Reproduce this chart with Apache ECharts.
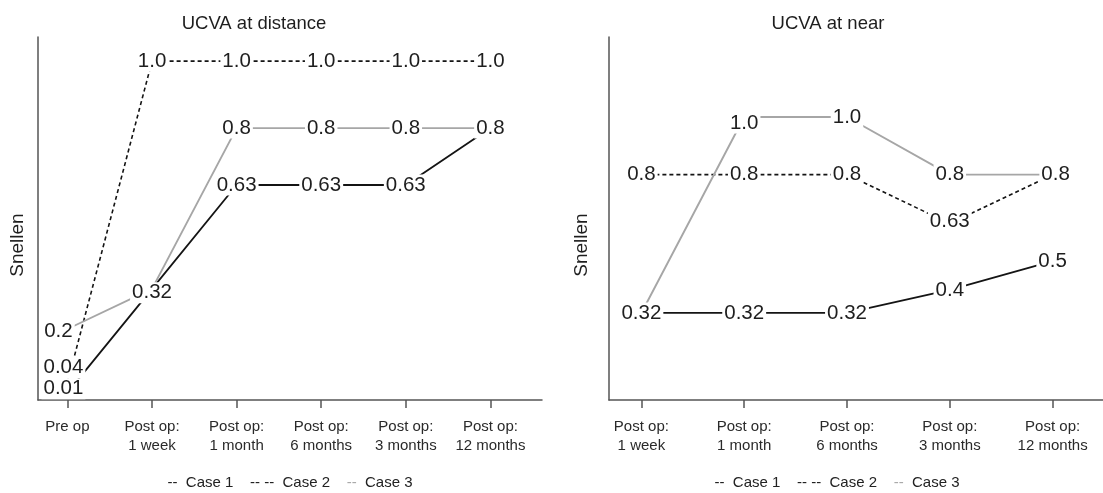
<!DOCTYPE html>
<html>
<head>
<meta charset="utf-8">
<script src="https://cdn.jsdelivr.net/npm/echarts@6/dist/echarts.min.js"></script>
<style>
  html, body { margin: 0; padding: 0; background: #fff; }
  #chart { width: 1103px; height: 493px; }
</style>
</head>
<body>
<div id="chart"></div>
<script>
// Time points
const distanceTimes = ['Pre op', 'Post op:\n1 week', 'Post op:\n1 month', 'Post op:\n6 months', 'Post op:\n3 months', 'Post op:\n12 months'];
const nearTimes = ['Post op:\n1 week', 'Post op:\n1 month', 'Post op:\n6 months', 'Post op:\n3 months', 'Post op:\n12 months'];

// Uncorrected visual acuity at distance (Snellen, decimal)
const distanceCase1 = [0.01, 0.32, 0.63, 0.63, 0.63, 0.8];
const distanceCase2 = [0.04, 1.0, 1.0, 1.0, 1.0, 1.0];
const distanceCase3 = [0.2, 0.32, 0.8, 0.8, 0.8, 0.8];

// Uncorrected visual acuity at near (Snellen, decimal)
const nearCase1 = [0.32, 0.32, 0.32, 0.4, 0.5];
const nearCase2 = [0.8, 0.8, 0.8, 0.63, 0.8];
const nearCase3 = [0.32, 1.0, 1.0, 0.8, 0.8];

const caseNames = ['Case 1', 'Case 2', 'Case 3'];

const FONT = 'Liberation Sans, Arial, sans-serif';
const TEXT = '#1e1e1e';
const AXIS = '#555';

const lineStyles = [
  { color: '#141414', width: 1.8, type: 'solid' },
  { color: '#141414', width: 1.6, type: [4, 3] },
  { color: '#a6a6a6', width: 1.9, type: 'solid' }
];

function fmt(v) {
  return v === 1 ? '1.0' : String(v);
}

// label nudges for crowded points, keyed gridIndex-seriesIndex-pointIndex
const labelNudge = {
  '0-0-0': [-4, -4],
  '0-1-0': [-4, -15],
  '0-2-0': [-9, 2],
  '0-0-1': [0, 4],
  '1-1-3': [0, -2],
  '1-2-1': [0, 6],
  '1-2-4': [3, 0],
  '1-1-4': [3, 0]
};

function buildSeries(gridIdx, seriesValues) {
  const labeled = new Set();
  return seriesValues.map((values, s) => {
    const data = values.map((v, i) => {
      const key = i + ':' + v;
      const show = !labeled.has(key);
      labeled.add(key);
      const item = { value: [i, v], label: { show } };
      const nudge = labelNudge[gridIdx + '-' + s + '-' + i];
      if (nudge) item.label.offset = nudge;
      return item;
    });
    return {
      name: caseNames[s],
      type: 'line',
      xAxisIndex: gridIdx,
      yAxisIndex: gridIdx,
      data,
      symbol: 'circle',
      symbolSize: 1,
      itemStyle: { color: 'transparent' },
      lineStyle: lineStyles[s],
      animation: false,
      label: {
        show: true,
        position: 'inside',
        formatter: p => fmt(p.value[1]),
        fontFamily: FONT,
        fontSize: 20.5,
        color: TEXT,
        backgroundColor: '#fff',
        padding: [0, 2]
      }
    };
  });
}

function xAxis(gridIdx, times, min, max) {
  const idx = times.map((_, i) => i);
  return {
    type: 'value',
    gridIndex: gridIdx,
    min, max,
    splitLine: { show: false },
    axisLine: { show: true, onZero: false, lineStyle: { color: AXIS, width: 1.5 } },
    axisTick: { show: true, customValues: idx, length: 8, lineStyle: { color: AXIS, width: 1.5 } },
    axisLabel: {
      customValues: idx,
      formatter: v => times[Math.round(v)] || '',
      fontFamily: FONT, fontSize: 15, color: '#2a2a2a',
      lineHeight: 19, margin: 17
    }
  };
}

function yAxis(gridIdx, min, max) {
  return {
    type: 'value',
    gridIndex: gridIdx,
    min, max,
    splitLine: { show: false },
    axisLine: { show: true, onZero: false, lineStyle: { color: AXIS, width: 1.5 } },
    axisTick: { show: false },
    axisLabel: { show: false }
  };
}

function legendText(x) {
  return {
    type: 'text',
    x, y: 483,
    style: {
      text: '{d|--}  {t|Case 1}    {d|-- --}  {t|Case 2}    {g|--}  {t|Case 3}',
      textAlign: 'center',
      textVerticalAlign: 'middle',
      font: '15px ' + FONT,
      fill: TEXT,
      rich: {
        d: { fill: '#222', font: '15px ' + FONT },
        g: { fill: '#aaa', font: '15px ' + FONT },
        t: { fill: '#222', font: '15px ' + FONT }
      }
    }
  };
}

function yName(x) {
  return {
    type: 'text',
    x, y: 245,
    rotation: Math.PI / 2,
    style: {
      text: 'Snellen',
      textAlign: 'center',
      textVerticalAlign: 'middle',
      font: '19px ' + FONT,
      fill: TEXT
    }
  };
}

const chart = echarts.init(document.getElementById('chart'), null, { renderer: 'canvas' });

chart.setOption({
  backgroundColor: '#fff',
  animation: false,
  title: [
    { text: 'UCVA at distance', left: 249, top: 9, textAlign: 'center',
      textStyle: { fontFamily: FONT, fontSize: 18.5, fontWeight: 'normal', color: TEXT } },
    { text: 'UCVA at near', left: 823, top: 9, textAlign: 'center',
      textStyle: { fontFamily: FONT, fontSize: 18.5, fontWeight: 'normal', color: TEXT } }
  ],
  grid: [
    { left: 38, right: 1103 - 542, top: 37, bottom: 93 },
    { left: 609, right: 0, top: 37, bottom: 93 }
  ],
  xAxis: [
    xAxis(0, distanceTimes, -0.348, 5.61),
    xAxis(1, nearTimes, -0.315, 4.49)
  ],
  yAxis: [
    yAxis(0, -0.012, 1.072),
    yAxis(1, 0.018, 1.2776)
  ],
  series: [
    ...buildSeries(0, [distanceCase1, distanceCase2, distanceCase3]),
    ...buildSeries(1, [nearCase1, nearCase2, nearCase3])
  ],
  graphic: [
    yName(18),
    yName(582),
    legendText(290),
    legendText(837)
  ]
});
</script>
</body>
</html>
